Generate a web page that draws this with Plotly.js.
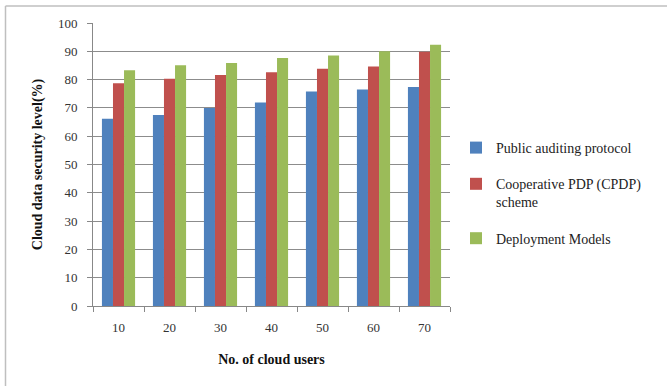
<!DOCTYPE html>
<html><head><meta charset="utf-8">
<script src="https://cdn.plot.ly/plotly-3.0.1.min.js"></script>
<style>html,body{margin:0;padding:0;background:#fff}</style>
</head><body>
<div id="chart" style="width:667px;height:386px"></div>
<script>
const categories = ["10","20","30","40","50","60","70"];
const publicAuditing = [66.2, 67.5, 70.0, 71.9, 75.8, 76.5, 77.4];
const cooperativePDP = [78.7, 80.3, 81.6, 82.6, 83.8, 84.6, 89.8];
const deploymentModels = [83.3, 85.1, 85.9, 87.6, 88.5, 90.0, 92.3];
const seriesNames = ["Public auditing protocol", "Cooperative PDP (CPDP)<br>scheme", "Deployment Models"];
const colors = ["#4F81BD", "#C0504D", "#9BBB59"];

const serif = "Liberation Serif, Times New Roman, serif";
const data = [publicAuditing, cooperativePDP, deploymentModels].map((vals, i) => ({
  type: "bar", x: categories, y: vals, name: seriesNames[i],
  marker: {color: colors[i]}, legendgroup: "g" + i
}));

const L = 93, R = 450, T = 23, B = 306, W = 667, H = 386;
const pw = R - L, ph = B - T;
const layout = {
  width: W, height: H,
  margin: {l: L, r: W - R, t: T, b: H - B, pad: 0},
  paper_bgcolor: "#fff", plot_bgcolor: "#fff",
  barmode: "group", bargap: 0.35, bargroupgap: 0,
  font: {family: serif, size: 13, color: "#222"},
  xaxis: {
    type: "category", tickson: "boundaries", ticks: "outside", ticklen: 5,
    tickcolor: "#888", showline: true, linecolor: "#888", linewidth: 1,
    showgrid: false, ticklabelstandoff: 9,
    tickfont: {family: serif, size: 13, color: "#333"},
    title: {text: "<b>No. of cloud users</b>", font: {family: serif, size: 14, color: "#111"}, standoff: 20}
  },
  yaxis: {
    range: [0, 100], dtick: 10, ticks: "outside", ticklen: 5, tickcolor: "#888",
    showline: true, linecolor: "#888", linewidth: 1, ticklabelstandoff: 7,
    showgrid: true, gridcolor: "#8c8c8c", gridwidth: 1, zeroline: false,
    tickfont: {family: serif, size: 13, color: "#333"},
    title: {text: "<b>Cloud data security level(%)</b>", font: {family: serif, size: 14, color: "#111"}, standoff: 12}
  },
  legend: {
    x: (456 - L) / pw, y: (B - 132) / ph, xanchor: "left", yanchor: "top",
    font: {family: serif, size: 14, color: "#222"},
    tracegroupgap: 15, valign: "top", itemwidth: 30, bgcolor: "rgba(0,0,0,0)"
  },
  shapes: [
    {type: "line", xref: "paper", yref: "paper",
     x0: (5.5 - L) / pw, x1: (W + 5 - L) / pw, y0: (B - 6) / ph, y1: (B - 6) / ph,
     line: {color: "#bfbfbf", width: 1.5}},
    {type: "line", xref: "paper", yref: "paper",
     x0: (5.5 - L) / pw, x1: (5.5 - L) / pw, y0: (B - 6) / ph, y1: (B - H - 5) / ph,
     line: {color: "#bfbfbf", width: 1.5}}
  ]
};
Plotly.newPlot("chart", data, layout, {staticPlot: true, displayModeBar: false});
</script>
</body></html>
